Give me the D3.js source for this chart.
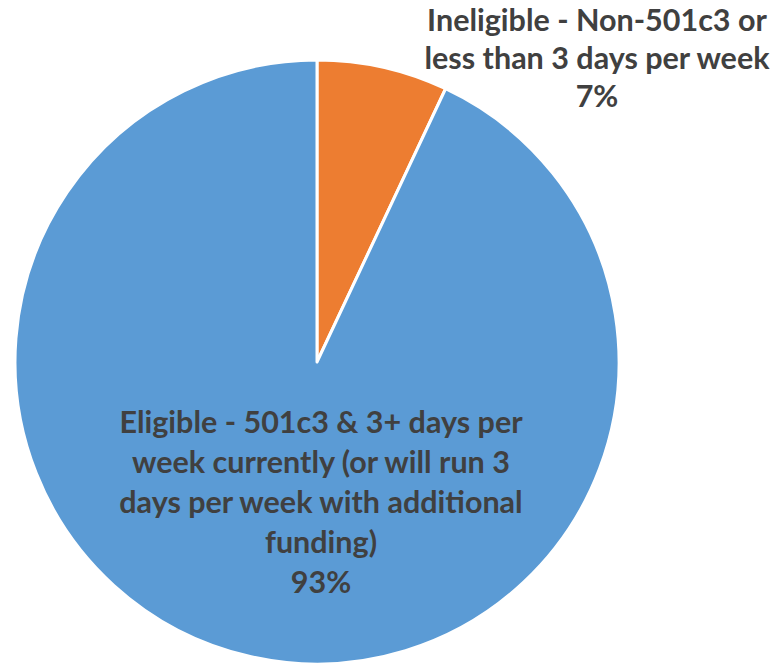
<!DOCTYPE html>
<html>
<head>
<meta charset="utf-8">
<script src="https://cdn.jsdelivr.net/npm/d3@7"></script>
<style>
    html, body { margin: 0; padding: 0; background: #fff; }
    svg { display: block; }
</style>
</head>
<body>
<div id="grafico"></div>
<script>
// Datos del gráfico
const categories = ["Ineligible", "Eligible"];
const values = [7, 93];
const colors = ["#ED7D31", "#5B9BD5"];
const labelLines = [
    ["Ineligible - Non-501c3 or", "less than 3 days per week", "7%"],
    ["Eligible - 501c3 & 3+ days per", "week currently (or will run 3", "days per week with additional", "funding)", "93%"]
];

const width = 778, height = 669;
const cx = 317, cy = 362, radius = 302;

const svg = d3.select("#grafico").append("svg")
    .attr("width", width)
    .attr("height", height);

const pie = d3.pie().sort(null).value(d => d)(values);
const arc = d3.arc().innerRadius(0).outerRadius(radius);

const g = svg.append("g").attr("transform", `translate(${cx},${cy})`);

g.selectAll("path")
    .data(pie)
    .enter()
    .append("path")
    .attr("d", arc)
    .attr("fill", (d, i) => colors[i])
    .attr("stroke", "#fff")
    .attr("stroke-width", 3)
    .attr("stroke-linejoin", "round");

// Etiquetas (posiciones a mano, como en el original)
const labelPos = [
    { x: 597, y: 31, step: 38 },
    { x: 321, y: 433, step: 40 }
];

labelLines.forEach((lines, i) => {
    const t = svg.append("text")
        .attr("text-anchor", "middle")
        .attr("font-family", "Lato, 'Open Sans', sans-serif")
        .attr("font-weight", "bold")
        .attr("font-size", 30.5)
        .attr("fill", "#404040");
    lines.forEach((line, j) => {
        t.append("tspan")
            .attr("x", labelPos[i].x)
            .attr("y", labelPos[i].y + j * labelPos[i].step)
            .text(line);
    });
});
</script>
</body>
</html>
